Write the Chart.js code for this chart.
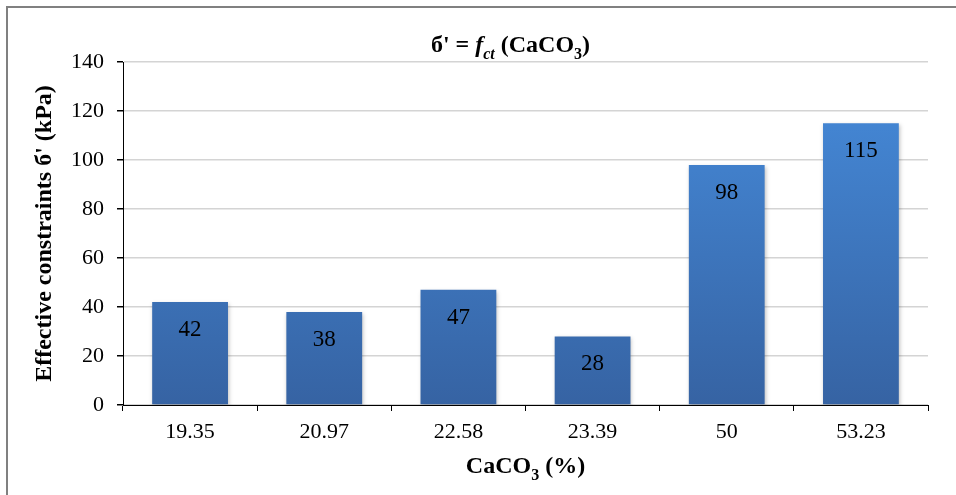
<!DOCTYPE html>
<html>
<head>
<meta charset="utf-8">
<script src="https://cdn.jsdelivr.net/npm/chart.js@4"></script>
<style>
  body { margin: 0; background: #fff; overflow: hidden; }
  #frame { position: absolute; left: 6px; top: 6px; width: 1200px; height: 800px;
           border-left: 2px solid #808080; border-top: 2px solid #808080; }
  #chart { position: absolute; left: 0; top: 0; }
</style>
</head>
<body>
<div id="frame"></div>
<canvas id="chart" width="956" height="495"></canvas>
<script>
const categories = ['19.35', '20.97', '22.58', '23.39', '50', '53.23'];
const sigmaValues = [42, 38, 47, 28, 98, 115];
const yTicks = [0, 20, 40, 60, 80, 100, 120, 140];

const SERIF = '"Liberation Serif", "Times New Roman", serif';

// draws a line of text made of pieces (italic / subscript), centred on cx
function drawRich(ctx, parts, cx, cy, size, rotate) {
    ctx.save();
    ctx.translate(cx, cy);
    if (rotate) ctx.rotate(-Math.PI / 2);
    ctx.textBaseline = 'alphabetic';
    ctx.fillStyle = '#000';
    const fontOf = p => (p.italic ? 'italic ' : '') + 'bold ' + (p.sub ? Math.round(size * 0.68) : size) + 'px ' + SERIF;
    let total = 0;
    parts.forEach(p => { ctx.font = fontOf(p); total += ctx.measureText(p.t).width; });
    let x = -total / 2;
    parts.forEach(p => {
        ctx.font = fontOf(p);
        ctx.fillText(p.t, x, p.sub ? size * 0.28 : 0);
        x += ctx.measureText(p.t).width;
    });
    ctx.restore();
}

const titlesPlugin = {
    id: 'titles',
    afterDraw(chart) {
        const ctx = chart.ctx;
        const a = chart.chartArea;
        const midX = (a.left + a.right) / 2;
        drawRich(ctx, [
            { t: "б' = " }, { t: 'f', italic: true }, { t: 'ct', italic: true, sub: true },
            { t: ' (CaCO' }, { t: '3', sub: true }, { t: ')' }
        ], midX - 15, a.top - 10, 24);
        drawRich(ctx, [{ t: "Effective constraints б' (kPa)" }], 51, (a.top + a.bottom) / 2, 24, true);
        drawRich(ctx, [{ t: 'CaCO' }, { t: '3', sub: true }, { t: ' (%)' }], midX, a.bottom + 68, 24);
    }
};

const valueLabels = {
    id: 'valueLabels',
    afterDatasetsDraw(chart) {
        const ctx = chart.ctx;
        const meta = chart.getDatasetMeta(0);
        ctx.save();
        ctx.font = '23px ' + SERIF;
        ctx.fillStyle = '#000';
        ctx.textAlign = 'center';
        ctx.textBaseline = 'middle';
        meta.data.forEach((bar, i) => {
            ctx.fillText(String(sigmaValues[i]), bar.x, bar.y + 28);
        });
        ctx.restore();
    }
};

const barShadow = {
    id: 'barShadow',
    beforeDatasetsDraw(chart) {
        const ctx = chart.ctx;
        ctx.save();
        ctx.shadowColor = 'rgba(0,0,0,0.25)';
        ctx.shadowBlur = 4;
        ctx.shadowOffsetX = 1;
        ctx.shadowOffsetY = 2;
    },
    afterDatasetsDraw(chart) {
        chart.ctx.restore();
    }
};

function barGradient(context) {
    const chart = context.chart;
    const a = chart.chartArea;
    if (!a) return '#3f7fcc';
    const bar = context.element;
    const top = bar && bar.y != null ? bar.y : a.top;
    const g = chart.ctx.createLinearGradient(0, top, 0, a.bottom);
    g.addColorStop(0, '#468cdc');
    g.addColorStop(1, '#3663a3');
    return g;
}

new Chart(document.getElementById('chart'), {
    type: 'bar',
    data: {
        labels: categories,
        datasets: [{
            data: sigmaValues,
            backgroundColor: barGradient,
            borderWidth: 0,
            categoryPercentage: 1,
            barPercentage: 0.565
        }]
    },
    plugins: [barShadow, valueLabels, titlesPlugin],
    options: {
        responsive: false,
        devicePixelRatio: 1,
        animation: false,
        layout: { padding: { left: 0, top: 62, right: 28, bottom: 0 } },
        plugins: {
            legend: { display: false },
            tooltip: { enabled: false }
        },
        scales: {
            x: {
                afterFit(scale) { scale.height = 90; },
                grid: {
                    offset: true,
                    drawOnChartArea: false,
                    tickColor: '#000',
                    tickLength: 6
                },
                border: { color: '#000', width: 1 },
                ticks: { color: '#000', padding: 8, font: { family: SERIF, size: 22 } }
            },
            y: {
                min: 0,
                max: 140,
                afterFit(scale) { scale.width = 123; },
                afterBuildTicks(scale) { scale.ticks = yTicks.map(v => ({ value: v })); },
                grid: {
                    color: '#d4d4d4',
                    lineWidth: 1.5,
                    tickColor: '#000',
                    tickLength: 6
                },
                border: { color: '#000', width: 1 },
                ticks: { color: '#000', padding: 13, font: { family: SERIF, size: 22 } }
            }
        }
    }
});
</script>
</body>
</html>
